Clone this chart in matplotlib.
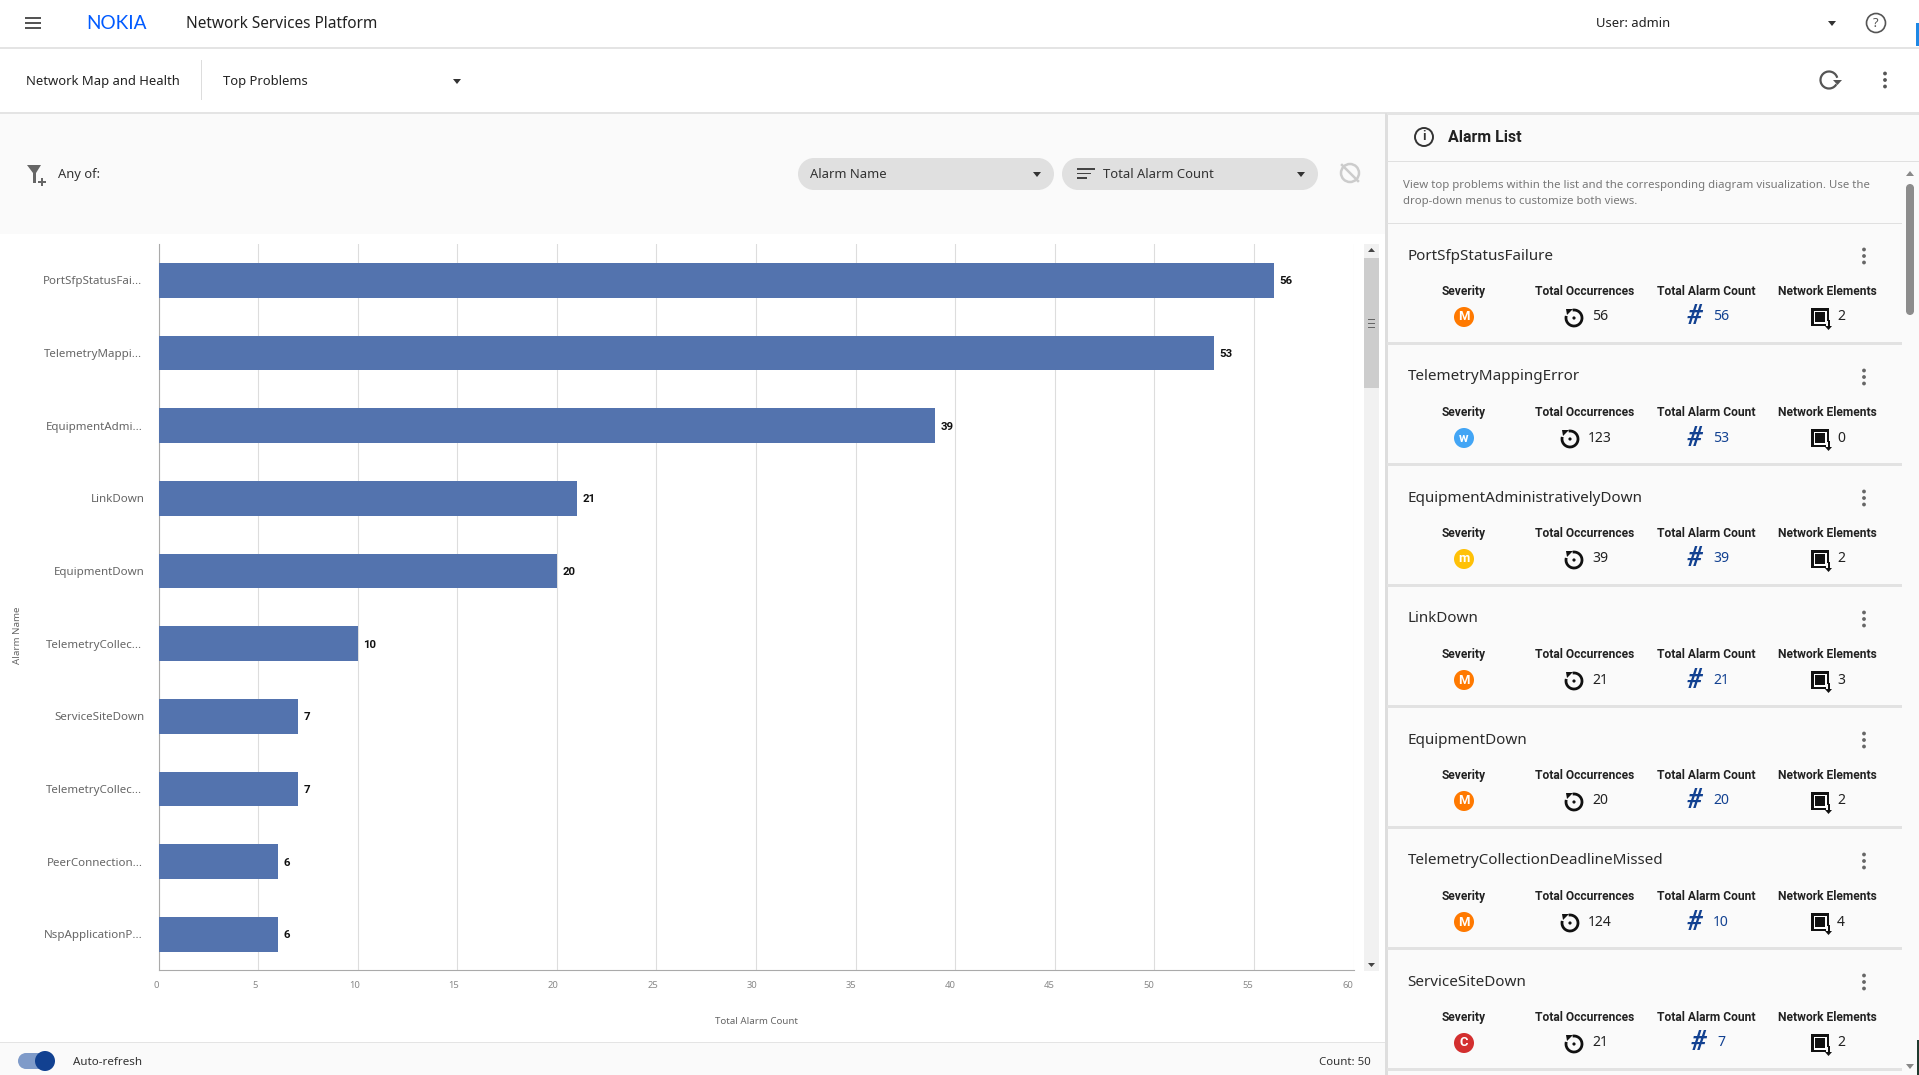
import matplotlib
matplotlib.use('Agg')
import matplotlib.pyplot as plt
from matplotlib.patches import Rectangle, Circle, Arc, Polygon
from matplotlib.transforms import ScaledTranslation

plt.rcParams['font.family'] = ['Noto Sans', 'DejaVu Sans']

# chart data
alarm_labels = ['PortSfpStatusFai...', 'TelemetryMappi...', 'EquipmentAdmi...', 'LinkDown',
                'EquipmentDown', 'TelemetryCollec...', 'ServiceSiteDown', 'TelemetryCollec...',
                'PeerConnection...', 'NspApplicationP...']
alarm_counts = [56, 53, 39, 21, 20, 10, 7, 7, 6, 6]
x_ticks = [0, 5, 10, 15, 20, 25, 30, 35, 40, 45, 50, 55, 60]

# alarm list cards
card_names = ['PortSfpStatusFailure', 'TelemetryMappingError', 'EquipmentAdministrativelyDown',
              'LinkDown', 'EquipmentDown', 'TelemetryCollectionDeadlineMissed', 'ServiceSiteDown']
card_severity = ['M', 'w', 'm', 'M', 'M', 'M', 'C']
card_occurrences = [56, 123, 39, 21, 20, 124, 21]
card_alarm_count = [56, 53, 39, 21, 20, 10, 7]
card_elements = [2, 0, 2, 3, 2, 4, 2]
severity_colors = {'M': '#FF7900', 'w': '#42A5F5', 'm': '#FFC107', 'C': '#D32F2F'}

W, H = 1919, 1075
BLUE = '#124191'
PANEL = '#FAFAFA'
LINE = '#E0E0E0'
BOLD = ['Roboto', 'DejaVu Sans']

fig = plt.figure(figsize=(W / 100, H / 100), dpi=100, facecolor='white')
bg = fig.add_axes([0, 0, 1, 1], zorder=0)
bg.set_xlim(0, W)
bg.set_ylim(H, 0)
bg.axis('off')


def label(x, y, s, px=14, color='#222222', ha='left', **kw):
    bg.text(x, y + 1.5, s, fontsize=px * 0.72, color=color, ha=ha, va='center', **kw)


def rect(x, y, w, h, color):
    bg.add_patch(Rectangle((x, y), w, h, facecolor=color, edgecolor='none'))


def caret(x, y, size=4, color='#333333'):
    bg.add_patch(Polygon([(x - size, y - 2), (x + size, y - 2), (x, y + 3)], facecolor=color, edgecolor='none'))


def pill(x, y, w, h, color):
    # horizontal or vertical capsule
    r = min(w, h) / 2
    if w >= h:
        rect(x + r, y, w - 2 * r, h, color)
        ends = [(x + r, y + r), (x + w - r, y + r)]
    else:
        rect(x, y + r, w, h - 2 * r, color)
        ends = [(x + r, y + r), (x + r, y + h - r)]
    for c in ends:
        bg.add_patch(Circle(c, r, facecolor=color, edgecolor='none'))


def kebab(x, y, color='#666666', r=1.9):
    for dy in (-6.5, 0, 6.5):
        bg.add_patch(Circle((x, y + dy), r, facecolor=color, edgecolor='none'))


# top bars
rect(0, 47, W, 1.5, '#E4E4E4')
for yy in (18, 23, 28):
    rect(25, yy - 0.9, 16, 1.9, '#555555')
label(86, 22, 'NOKIA', px=19, color='#005AFF', family='Lato')
label(186, 23, 'Network Services Platform', px=15.4)
label(1596, 22, 'User: admin', px=13)
caret(1832, 23)
bg.add_patch(Circle((1876, 23), 9.5, facecolor='none', edgecolor='#555555', lw=1.2))
label(1876, 22, '?', px=13, color='#555555', ha='center')
rect(1916, 23, 3, 23, '#1E88E5')

label(26, 80, 'Network Map and Health', px=13)
rect(201, 60, 1, 40, '#DDDDDD')
label(223, 80, 'Top Problems', px=13)
caret(457, 81)
bg.add_patch(Arc((1829, 80), 17, 17, theta1=30, theta2=345, edgecolor='#555555', lw=1.6))
bg.add_patch(Polygon([(1833, 80), (1842, 80), (1837.5, 85)], facecolor='#555555', edgecolor='none'))
kebab(1885, 80, '#555555')
rect(0, 112, W, 1.5, '#E4E4E4')

# filter row
rect(0, 113.5, 1386, 120.5, PANEL)
bg.add_patch(Polygon([(27, 165), (41, 165), (36, 173), (36, 183), (33, 183), (33, 173)],
                     facecolor='#666666', edgecolor='none'))
rect(38, 181, 8, 1.6, '#666666')
rect(41.2, 177.5, 1.6, 8, '#666666')
label(58, 173, 'Any of:', px=13, color='#333333')
pill(798, 158, 256, 32, LINE)
label(810, 173, 'Alarm Name', px=13, color='#333333')
caret(1037, 174)
pill(1062, 158, 256, 32, LINE)
for yy, w in ((169, 18), (173.5, 14), (178, 10)):
    rect(1077, yy - 0.8, w, 1.6, '#444444')
label(1103, 173, 'Total Alarm Count', px=13, color='#333333')
caret(1301, 174)
bg.add_patch(Circle((1350, 173), 9, facecolor='none', edgecolor='#CCCCCC', lw=1.8))
bg.plot([1342, 1358], [165, 181], color='#CCCCCC', lw=1.8)

# footer
rect(0, 1042, 1386, 33, PANEL)
rect(0, 1042, 1386, 1, '#E4E4E4')
pill(18, 1053, 32, 16, '#7F9BC9')
bg.add_patch(Circle((45, 1061), 10, facecolor=BLUE, edgecolor='none'))
label(73, 1061, 'Auto-refresh', px=11.6, color='#333333')
label(1371, 1061, 'Count: 50', px=11.5, color='#333333', ha='right')

# chart scrollbar
rect(1364, 244, 15, 727, '#F1F1F1')
rect(1364, 258, 15, 130, '#CDCDCD')
for yy in (319, 323, 327):
    rect(1368, yy - 0.5, 7, 1, '#666666')
bg.add_patch(Polygon([(1368, 252), (1375, 252), (1371.5, 248)], facecolor='#444444', edgecolor='none'))
bg.add_patch(Polygon([(1368, 963), (1375, 963), (1371.5, 967)], facecolor='#444444', edgecolor='none'))

# alarm list panel
rect(1387, 113, 532, H - 113, PANEL)
rect(1385, 113, 2.5, H - 113, '#DEDEDE')
rect(1387, 113, 532, 1.5, '#E4E4E4')
bg.add_patch(Circle((1424, 137), 9, facecolor='none', edgecolor='#333333', lw=1.4))
label(1424, 135.5, 'i', px=13, color='#333333', ha='center', family=BOLD, fontweight='bold')
label(1448, 135.5, 'Alarm List', px=16, family=BOLD, fontweight='bold')
rect(1387, 161, 532, 1, LINE)
label(1403, 184, 'View top problems within the list and the corresponding diagram visualization. Use the',
      px=11.4, color='#777777')
label(1403, 200, 'drop-down menus to customize both views.', px=11.4, color='#777777')
rect(1387, 223, 515, 1, LINE)
pill(1906, 184, 8, 131, '#8C8C8C')
bg.add_patch(Polygon([(1906, 176), (1914, 176), (1910, 171)], facecolor='#888888', edgecolor='none'))
bg.add_patch(Polygon([(1906, 1064), (1914, 1064), (1910, 1069)], facecolor='#888888', edgecolor='none'))
rect(1917, 1040, 2, 35, '#1F3B2F')

for i, name in enumerate(card_names):
    top = 121 * i
    label(1407.5, 254.5 + top, name, px=15.2, color='#2B2B2B')
    kebab(1864, 256 + top)
    for cx, head in ((1464, 'Severity'), (1585, 'Total Occurrences'), (1706, 'Total Alarm Count'),
                     (1827, 'Network Elements')):
        label(cx, 290 + top, head, px=12, color='#222222', ha='center', family=BOLD, fontweight='bold')
    rowy = 317 + top

    sev = card_severity[i]
    bg.add_patch(Circle((1464, rowy), 10, facecolor=severity_colors[sev], edgecolor='none'))
    label(1464, rowy - 1.5, sev, px=13, color='white', ha='center', family=BOLD, fontweight='bold')

    # occurrences, wider numbers shift the icon to the left
    occ = str(card_occurrences[i])
    shift = -4 * (len(occ) - 2)
    cx = 1574 + shift
    bg.add_patch(Arc((cx, rowy + 1), 16, 16, theta1=-100, theta2=195, edgecolor='#111111', lw=2))
    bg.add_patch(Polygon([(cx - 8, rowy - 8), (cx - 1, rowy - 8), (cx - 7, rowy - 2)], facecolor='#111111',
                         edgecolor='none'))
    bg.add_patch(Circle((cx, rowy + 1), 1.6, facecolor='#111111', edgecolor='none'))
    label(1592 + shift, rowy - 1.5, occ, px=14, color='#222222')

    # total alarm count
    cnt = str(card_alarm_count[i])
    shift = 4 * (2 - len(cnt))
    label(1694 + shift, rowy - 1.5, '#', px=27, color=BLUE, ha='center', family=BOLD, fontweight='bold',
          style='italic')
    label(1713 + shift, rowy - 1.5, cnt, px=14, color=BLUE)

    # network elements
    rect(1811, rowy - 9, 18, 18, '#111111')
    rect(1813.5, rowy - 6.5, 13, 13, 'white')
    rect(1815, rowy - 5, 10, 10, '#111111')
    rect(1825.5, rowy + 4, 6, 7, PANEL)
    rect(1827.5, rowy + 3, 2, 7, '#111111')
    bg.add_patch(Polygon([(1825, rowy + 9), (1832, rowy + 9), (1828.5, rowy + 13)], facecolor='#111111',
                         edgecolor='none'))
    label(1837, rowy - 1.5, str(card_elements[i]), px=14, color='#222222')

    rect(1387, 342 + top, 515, 3, '#E2E2E2')

# bar chart
ax = fig.add_axes([158.5 / W, 1 - 970 / H, (1353.5 - 158.5) / W, (970 - 244) / H], zorder=1)
ax.patch.set_alpha(0)
bars = ax.barh(range(len(alarm_counts)), alarm_counts, height=0.48, color='#5373AE', zorder=3)
value_texts = ax.bar_label(bars, padding=4, fontsize=8.2, fontweight='bold', color='#111111', family=BOLD)
for t in value_texts:
    t.set_verticalalignment('center_baseline')
ax.set_xlim(0, 60)
ax.set_ylim(9.49, -0.5)
ax.set_xticks(x_ticks)
ax.set_yticks(range(len(alarm_labels)))
ax.set_yticklabels(alarm_labels)
ax.grid(True, axis='x', color='#DDDDDD', lw=0.8, zorder=0)
ax.tick_params(axis='both', length=0, labelsize=8.3, labelcolor='#666666')
ax.tick_params(axis='x', pad=8, labelsize=6.8, labelcolor='#888888')
ax.tick_params(axis='y', pad=11.5)
ax.spines['top'].set_visible(False)
ax.spines['right'].set_visible(False)
ax.spines['left'].set_color('#AAAAAA')
ax.spines['bottom'].set_color('#AAAAAA')
ax.set_xlabel('Total Alarm Count', fontsize=7, color='#666666', labelpad=19.5)
# x tick labels sit a little left of their gridlines, more so towards the right
for v, t in zip(x_ticks, ax.get_xticklabels()):
    offset = (2.5 + v / 60 * 3.5) * 0.72 / 72
    t.set_transform(t.get_transform() + ScaledTranslation(-offset, 0, fig.dpi_scale_trans))
# full names end a little further right than the shortened ones
for name, t in zip(alarm_labels, ax.get_yticklabels()):
    if not name.endswith('...'):
        t.set_transform(t.get_transform() + ScaledTranslation(2 * 0.72 / 72, 0, fig.dpi_scale_trans))
fig.text(18 / W, 1 - 635 / H, 'Alarm Name', rotation=90, fontsize=7, color='#666666', ha='center', va='center')

fig.savefig('out.png', dpi=100)
